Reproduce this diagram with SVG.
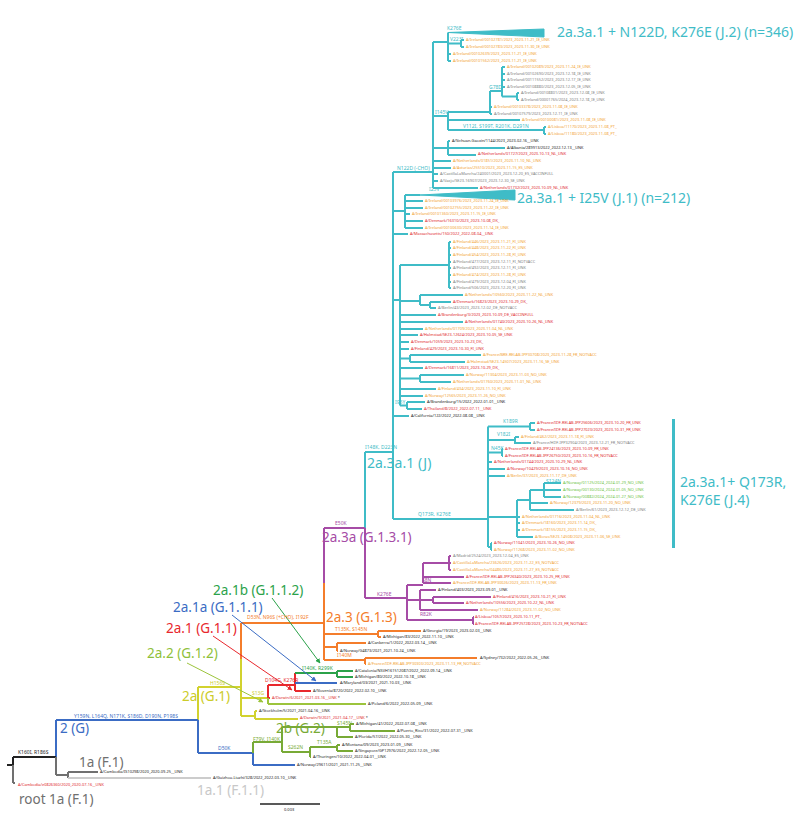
<svg xmlns="http://www.w3.org/2000/svg" width="800" height="827" viewBox="0 0 800 827">
<defs>
<style>
.e{fill:none;stroke-width:2}
.cy{stroke:#3fbcc7}.pu{stroke:#a64ca6}.or{stroke:#f47d2b}.ye{stroke:#d2d22e}.rd{stroke:#e8282d}.yg{stroke:#9cc43c}.gr{stroke:#2ba24a}.bl{stroke:#3b6cc4}.g2{stroke:#78aa36}.bk{stroke:#222}.gy{stroke:#707070}.lg{stroke:#cccccc}
text{font-family:"Noto Sans","DejaVu Sans",sans-serif}
.l{font-size:3.9px}.m{font-size:5px}.c{font-size:13.5px}.j{font-size:14px}
.K{fill:#222}.G{fill:#808080}.R{fill:#e0282e}.O{fill:#f2a233}.N{fill:#6cbf3f}
.tcy{fill:#3fbcc7}.tpu{fill:#a64ca6}.tor{fill:#f47d2b}.tye{fill:#cccc2a}.trd{fill:#e8282d}.tyg{fill:#8fbf3a}.tgr{fill:#2ba24a}.tbl{fill:#3b6cc4}.tg2{fill:#78aa36}.tgy{fill:#707070}.tlg{fill:#c8c8c8}
</style>
<marker id="agr" viewBox="0 0 10 10" refX="9" refY="5" markerWidth="5" markerHeight="5" orient="auto"><path d="M0,0L10,5L0,10z" fill="#2ba24a"/></marker>
<marker id="abl" viewBox="0 0 10 10" refX="9" refY="5" markerWidth="5" markerHeight="5" orient="auto"><path d="M0,0L10,5L0,10z" fill="#3b6cc4"/></marker>
<marker id="ard" viewBox="0 0 10 10" refX="9" refY="5" markerWidth="5" markerHeight="5" orient="auto"><path d="M0,0L10,5L0,10z" fill="#e8282d"/></marker>
<marker id="ayg" viewBox="0 0 10 10" refX="9" refY="5" markerWidth="5" markerHeight="5" orient="auto"><path d="M0,0L10,5L0,10z" fill="#9cc43c"/></marker>
</defs>
<rect width="800" height="827" fill="#fff"/>
<g id="connectors">
<path class="e cy" d="M365,452V528M365,452H393M393,172V519M393,172H433M433,42V188M433,42H448M448,32.5V61M448,43.5H461M461,40V47M461,40H464M461,47H464M448,54H451M448,61H451M433,116H448M448,112V130M448,112H490M490,91V114M490,107H492M490,114H492M490,91H502M502,67V96.5M502,67H505M502,74H505M502,80H505M502,87H505M502,96.5H517M517,93V100M517,93H519M517,100H519M448,120H520M448,130H544M544,127V134M544,127H546M544,134H546M433,148H448M448,141V155M448,141H450M448,148H505M448,155H476M433,161H451M433,168H451M433,174H438M433,181H438M433,188H478M393,211H405M405,195V228M405,195H420M405,201H423M405,208H423M405,214H410M405,221H423M405,228H423M393,234H408M393,300H400M400,265V405.5M400,265H449M449,242V288M449,242H451M449,248H451M449,255H451M449,262H451M449,268H451M449,275H451M449,282H451M449,288H451M400,301H420M420,295V305M420,295H463M420,305H430M430,302V308M430,302H451M430,308H436M400,315H436M400,322H463M400,329H423M400,335H418M400,342H409M400,349H409M400,358.5H410M410,355V362M410,355H481M410,362H465M400,368H423M400,378.5H420M420,375V382M420,375H464M420,382H451M400,389H436M400,396H423M400,405.5H407M407,402V409M407,402H425M407,409H422M393,416H409M393,519H488M488,426.5V547M488,426.5H530M530,423V430M530,423H535M530,430H535M488,440H515M515,437V444M515,437H519M515,443H531M488,452.5H502M502,449V456M502,449H503M502,456H503M488,462H492M488,469H505M488,476H505M488,517H517M517,500V537M517,500H530M530,490V510M530,490H544M544,483V497M544,483H561M544,490H561M544,497H561M530,503H548M530,510H574M517,517H520M517,523H520M517,530H520M517,537H533M488,547H491M491,543V550M491,543H492M491,550H492"/>
<polygon points="448,32.5 544,29 544,37" fill="#3fbcc7" stroke="#3fbcc7" stroke-width="1"/>
<polygon points="420,195 515,190 515,200" fill="#3fbcc7" stroke="#3fbcc7" stroke-width="1"/>
<rect x="672" y="419" width="3" height="129" fill="#3fbcc7"/>
<path class="e pu" d="M324,528H365M324,528V583M365,528V598M365,598H407M407,585V620M407,585H423M423,563V583M423,563H449M449,556V570M449,556H451M449,563H451M449,570H451M423,577H464M423,583H451M407,600H420M420,590V610M420,590H436M420,600H433M433,597V603M433,597H491M433,603H464M420,610H478M407,620H473M473,617V624M473,617H474M473,624H474"/>
<path class="e or" d="M241,623H324M241,623V659M324,583V660M324,634H378M378,631V637M378,631H421M378,637H381M324,647H337M337,643V651M337,643H366M337,651H338M324,660H365M365,658V664M365,658H477M365,664H366"/>
<path class="e ye" d="M198,687H241M198,687V720M241,659V716M241,698H268M241,716H255M255,711V719M255,711H257M255,719H298"/>
<path class="e rd" d="M268,685V698M268,685H295M295,673V691M295,691H311M268,698H270"/>
<path class="e yg" d="M268,698V704M268,704H366"/>
<path class="e gr" d="M295,673H337M337,671V677M337,671H353M337,677H353"/>
<path class="e bl" d="M295,683H337M56,720H198M56,720V757M198,720V753M198,753H253M253,753V765M253,765H295"/>
<path class="e g2" d="M253,742V753M253,742H282M282,727V752M282,727H350M337,727V737M337,737H353M350,724V731M350,724H354M350,731H395M282,752H310M310,747V757M310,747H337M337,745V751M337,745H340M337,751H353M310,757H311"/>
<path class="e bk" d="M7,765H13M13,757V765M13,757H56"/>
<path class="e gy" d="M13,765V783M13,783H15M56,757V775M56,775H68M68,772V778M68,772H98"/>
<path class="e lg" d="M68,778H211"/>
<path d="M260,804H320" stroke="#222" stroke-width="1.5" fill="none"/>
<path d="M272,598L320,663" stroke="#2ba24a" stroke-width="1" fill="none" marker-end="url(#agr)"/>
<path d="M232,615L316,681" stroke="#3b6cc4" stroke-width="1" fill="none" marker-end="url(#abl)"/>
<path d="M213,636L292,690" stroke="#e8282d" stroke-width="1" fill="none" marker-end="url(#ard)"/>
<path d="M187,663L263,702" stroke="#9cc43c" stroke-width="1" fill="none" marker-end="url(#ayg)"/>
</g>
<g id="mutations">
<text class="m K" x="18" y="754">K160I, R186S</text>
<text class="m tbl" x="74" y="718">Y159N, L164Q, N171K, S186D, D190N, P198S</text>
<text class="m tye" x="210" y="685">H156S</text>
<text class="m tbl" x="218" y="750">D50K</text>
<text class="m tor" x="247" y="619">D53N, N96S (+CHO), I192F</text>
<text class="m tye" x="252" y="695">S13G</text>
<text class="m trd" x="265" y="682">D104G, K276R</text>
<text class="m tgr" x="302" y="670">I140K, R299K</text>
<text class="m tg2" x="253" y="740.5">F79V, I140K</text>
<text class="m tg2" x="337" y="725">S145N</text>
<text class="m tg2" x="288" y="749">S262N</text>
<text class="m tg2" x="317" y="744">T135A</text>
<text class="m tor" x="335" y="631">T135K, S145N</text>
<text class="m tor" x="337" y="657">I140M</text>
<text class="m tpu" x="335" y="525">E50K</text>
<text class="m tpu" x="377" y="596">K276E</text>
<text class="m tpu" x="422" y="582">S8N</text>
<text class="m tpu" x="420" y="616">R82K</text>
<text class="m tcy" x="365" y="449">I148K, D223N</text>
<text class="m tcy" x="418" y="516">Q173R, K276E</text>
<text class="m tcy" x="503" y="423">K189R</text>
<text class="m tcy" x="497" y="436">V182I</text>
<text class="m tcy" x="491" y="450">N45K</text>
<text class="m tcy" x="546" y="483">S124N</text>
<text class="m tcy" x="395" y="404">I95Y</text>
<text class="m tcy" x="429" y="191">I25V</text>
<text class="m tcy" x="397" y="170">N122D (-CHO)</text>
<text class="m tcy" x="447" y="30">K276E</text>
<text class="m tcy" x="450" y="41">V223I</text>
<text class="m tcy" x="489" y="89">G78D</text>
<text class="m tcy" x="435" y="114">I145V</text>
<text class="m tcy" x="463" y="128">V112I, S199T, R201K, D291N</text>
<text x="284" y="811" style="font-size:4px" class="K">0.003</text>
</g>
<g id="clade-labels">
<text class="j tcy" x="557" y="37">2a.3a.1 + N122D, K276E (J.2) (n=346)</text>
<text class="j tcy" x="517" y="202.5">2a.3a.1 + I25V (J.1) (n=212)</text>
<text class="j tcy" x="367" y="468">2a.3a.1 (J)</text>
<text class="j tcy" x="680" y="487">2a.3a.1+ Q173R,</text>
<text class="j tcy" x="680" y="505">K276E (J.4)</text>
<text class="c tpu" x="322" y="542">2a.3a (G.1.3.1)</text>
<text class="c tor" x="326" y="622">2a.3 (G.1.3)</text>
<text class="c tgr" x="213" y="595">2a.1b (G.1.1.2)</text>
<text class="c tbl" x="173" y="612">2a.1a (G.1.1.1)</text>
<text class="c trd" x="166" y="633">2a.1 (G.1.1)</text>
<text class="c tyg" x="147" y="658">2a.2 (G.1.2)</text>
<text class="c tye" x="182" y="701">2a (G.1)</text>
<text class="c tbl" x="60" y="733">2 (G)</text>
<text class="c tg2" x="276" y="732.5">2b (G.2)</text>
<text class="c tgy" x="79" y="767">1a (F.1)</text>
<text class="c tgy" x="19" y="804">root 1a (F.1)</text>
<text class="c tlg" x="197" y="795">1a.1 (F.1.1)</text>
</g>
<g id="leaves-J">
<text class="l O" x="466" y="41.4">A/Ireland/00102781/2023_2023-11-21_IE_UNK</text>
<text class="l O" x="466" y="48.4">A/Ireland/00102783/2023_2023-11-30_IE_UNK</text>
<text class="l O" x="453" y="55.4">A/Ireland/00102639/2023_2023-11-21_IE_UNK</text>
<text class="l O" x="453" y="62.4">A/Ireland/00101562/2023_2023-11-21_IE_UNK</text>
<text class="l O" x="507" y="68.4">A/Ireland/00102089/2023_2023-11-24_IE_UNK</text>
<text class="l G" x="507" y="75.4">A/Ireland/00102690/2023_2023-12-18_IE_UNK</text>
<text class="l G" x="507" y="81.4">A/Ireland/00111552/2023_2023-12-17_IE_UNK</text>
<text class="l G" x="507" y="88.4">A/Ireland/00108880/2023_2023-12-05_IE_UNK</text>
<text class="l G" x="521" y="94.4">A/Ireland/00108801/2023_2023-12-08_IE_UNK</text>
<text class="l G" x="521" y="101.4">A/Ireland/00001765/2024_2023-12-18_IE_UNK</text>
<text class="l O" x="494" y="108.4">A/Ireland/00103378/2023_2023-11-08_IE_UNK</text>
<text class="l G" x="494" y="115.4">A/Ireland/00107579/2023_2023-12-11_IE_UNK</text>
<text class="l O" x="522" y="121.4">A/Ireland/00100081/2023_2023-11-08_IE_UNK</text>
<text class="l O" x="548" y="128.4">A/Lisboa/11170/2023_2023-11-08_PT_</text>
<text class="l O" x="548" y="135.4">A/Lisboa/11180/2023_2023-11-08_PT_</text>
<text class="l K" x="452" y="142.4">A/Sichuan-Gaoxin/1144/2023_2023-02-16__UNK</text>
<text class="l K" x="507" y="149.4">A/Albania/289913/2022_2022-12-13__UNK</text>
<text class="l R" x="478" y="155.4">A/Netherlands/01727/2023_2023-10-13_NL_UNK</text>
<text class="l O" x="453" y="162.4">A/Netherlands/01851/2023_2023-11-10_NL_UNK</text>
<text class="l O" x="453" y="169.4">A/Asturias/25510/2023_2023-11-15_ES_UNK</text>
<text class="l G" x="440" y="175.4">A/CastillaLaMancha/240001/2023_2023-12-20_ES_VACCINFULL</text>
<text class="l G" x="440" y="182.4">A/Vaxjo/SE23-16907/2023_2023-12-30_SE_UNK</text>
<text class="l R" x="480" y="188.8">A/Netherlands/01732/2023_2023-10-09_NL_UNK</text>
<text class="l O" x="425" y="202.4">A/Ireland/00103976/2023_2023-11-24_IE_UNK</text>
<text class="l O" x="425" y="209.4">A/Ireland/00102755/2023_2023-11-22_IE_UNK</text>
<text class="l O" x="412" y="215.4">A/Ireland/00101360/2023_2023-11-15_IE_UNK</text>
<text class="l R" x="425" y="222.4">A/Denmark/16310/2023_2023-10-08_DK_</text>
<text class="l O" x="425" y="229.4">A/Ireland/00100630/2023_2023-11-14_IE_UNK</text>
<text class="l R" x="410" y="235.4">A/Massachusetts/150/2022_2022-08-04__UNK</text>
<text class="l O" x="453" y="243.4">A/Finland/446/2023_2023-11-21_FI_UNK</text>
<text class="l O" x="453" y="249.4">A/Finland/448/2023_2023-11-22_FI_UNK</text>
<text class="l O" x="453" y="256.4">A/Finland/454/2023_2023-11-28_FI_UNK</text>
<text class="l G" x="453" y="263.4">A/Finland/477/2023_2023-12-11_FI_NOTVACC</text>
<text class="l G" x="453" y="269.4">A/Finland/492/2023_2023-12-11_FI_UNK</text>
<text class="l O" x="453" y="276.4">A/Finland/474/2023_2023-11-28_FI_UNK</text>
<text class="l G" x="453" y="283.4">A/Finland/479/2023_2023-12-04_FI_UNK</text>
<text class="l G" x="453" y="289.4">A/Finland/506/2023_2023-12-20_FI_UNK</text>
<text class="l O" x="465" y="296.4">A/Netherlands/10560/2023_2023-11-22_NL_UNK</text>
<text class="l R" x="453" y="303.4">A/Denmark/16823/2023_2023-10-29_DK_</text>
<text class="l G" x="438" y="309.4">A/Berlin/43/2023_2023-12-02_DE_NOTVACC</text>
<text class="l R" x="438" y="316.4">A/Brandenburg/3/2023_2023-10-09_DE_VACCINFULL</text>
<text class="l R" x="465" y="323.4">A/Netherlands/01740/2023_2023-10-26_NL_UNK</text>
<text class="l O" x="425" y="330.4">A/Netherlands/01709/2023_2023-11-04_NL_UNK</text>
<text class="l R" x="420" y="336.4">A/Halmstad/SE23-12624/2023_2023-10-05_SE_UNK</text>
<text class="l R" x="411" y="343.4">A/Denmark/1059/2023_2023-10-23_DK_</text>
<text class="l R" x="411" y="350.4">A/Finland/429/2023_2023-10-30_FI_UNK</text>
<text class="l O" x="483" y="356.4">A/France/BRE-RELAB-IPP30708/2023_2023-11-28_FR_NOTVACC</text>
<text class="l O" x="467" y="363.4">A/Halmstad/SE23-14507/2023_2023-11-16_SE_UNK</text>
<text class="l R" x="425" y="369.4">A/Denmark/16811/2023_2023-10-29_DK_</text>
<text class="l O" x="466" y="376.4">A/Norway/11304/2023_2023-11-03_NO_UNK</text>
<text class="l O" x="453" y="383.4">A/Netherlands/01760/2023_2023-11-01_NL_UNK</text>
<text class="l O" x="438" y="390.4">A/Finland/434/2023_2023-11-10_FI_UNK</text>
<text class="l O" x="425" y="397.4">A/Norway/12565/2023_2023-11-26_NO_UNK</text>
<text class="l K" x="427" y="403.4">A/Brandenburg/15/2022_2022-01-01__UNK</text>
<text class="l R" x="424" y="410.4">A/Thailand/8/2022_2022-07-11__UNK</text>
<text class="l K" x="411" y="417.4">A/California/122/2022_2022-08-08__UNK</text>
</g>
<g id="leaves-J4">
<text class="l R" x="537" y="424.4">A/France/IDF-RELAB-IPP25606/2023_2023-10-20_FR_UNK</text>
<text class="l R" x="537" y="431.4">A/France/IDF-RELAB-IPP27023/2023_2023-10-31_FR_UNK</text>
<text class="l O" x="521" y="438.4">A/Finland/462/2023_2023-11-18_FI_UNK</text>
<text class="l G" x="533" y="444.4">A/France/HDF-IPP32904/2023_2023-12-21_FR_NOTVACC</text>
<text class="l R" x="505" y="450.4">A/France/IDF-RELAB-IPP24136/2023_2023-10-09_FR_UNK</text>
<text class="l R" x="505" y="457.4">A/France/IDF-RELAB-IPP26750/2023_2023-10-16_FR_NOTVACC</text>
<text class="l R" x="494" y="463.4">A/Netherlands/01744/2023_2023-10-29_NL_UNK</text>
<text class="l R" x="507" y="470.4">A/Norway/10429/2023_2023-10-16_NO_UNK</text>
<text class="l O" x="507" y="477.2">A/Berlin/37/2023_2023-11-17_DE_UNK</text>
<text class="l N" x="563" y="484.4">A/Norway/01125/2024_2024-01-29_NO_UNK</text>
<text class="l N" x="563" y="491.4">A/Norway/00130/2024_2024-01-05_NO_UNK</text>
<text class="l N" x="563" y="498.4">A/Norway/00882/2024_2024-01-27_NO_UNK</text>
<text class="l O" x="550" y="504.4">A/Norway/12379/2023_2023-11-20_NO_UNK</text>
<text class="l G" x="576" y="511.4">A/Berlin/61/2023_2023-12-12_DE_UNK</text>
<text class="l O" x="522" y="518.4">A/Netherlands/01716/2023_2023-11-04_NL_UNK</text>
<text class="l O" x="522" y="524.4">A/Denmark/18160/2023_2023-11-14_DK_</text>
<text class="l O" x="522" y="531.4">A/Denmark/18155/2023_2023-11-15_DK_</text>
<text class="l O" x="535" y="538.4">A/Boras/SE23-14508/2023_2023-11-06_SE_UNK</text>
<text class="l R" x="494" y="544.4">A/Norway/11041/2023_2023-10-26_NO_UNK</text>
<text class="l O" x="494" y="551.4">A/Norway/11268/2023_2023-11-02_NO_UNK</text>
</g>
<g id="leaves-G131">
<text class="l G" x="453" y="557.4">A/Madrid/2524/2023_2023-12-04_ES_UNK</text>
<text class="l O" x="453" y="564.4">A/CastillaLaMancha/23626/2023_2023-11-22_ES_NOTVACC</text>
<text class="l O" x="453" y="571.4">A/CastillaLaMancha/04486/2023_2023-11-27_ES_NOTVACC</text>
<text class="l R" x="466" y="578.4">A/France/IDF-RELAB-IPP26340/2023_2023-10-25_FR_UNK</text>
<text class="l O" x="453" y="584.4">A/France/IDF-RELAB-IPP30026/2023_2023-11-13_FR_UNK</text>
<text class="l K" x="438" y="591.4">A/Finland/403/2023_2023-09-01__UNK</text>
<text class="l R" x="493" y="598.4">A/Finland/416/2023_2023-10-21_FI_UNK</text>
<text class="l R" x="466" y="604.4">A/Netherlands/10556/2023_2023-10-22_NL_UNK</text>
<text class="l O" x="480" y="611.4">A/Norway/11284/2023_2023-11-02_NO_UNK</text>
<text class="l R" x="475" y="618.4">A/Lisboa/1057/2023_2023-10-11_PT_</text>
<text class="l R" x="475" y="625.4">A/France/IDF-RELAB-IPP25728/2023_2023-10-23_FR_NOTVACC</text>
</g>
<g id="leaves-G13">
<text class="l K" x="423" y="632.4">A/Georgia/19/2023_2023-02-03__UNK</text>
<text class="l K" x="383" y="638.4">A/Michigan/83/2022_2022-11-10__UNK</text>
<text class="l K" x="368" y="644.4">A/Canberra/1/2022_2022-03-14__UNK</text>
<text class="l K" x="340" y="652.4">A/Norway/G4873/2021_2021-10-24__UNK</text>
<text class="l K" x="480" y="659.4">A/Sydney/732/2022_2022-05-26__UNK</text>
<text class="l O" x="368" y="665.4">A/France/IDF-RELAB-IPP30303/2023_2023-11-13_FR_NOTVACC</text>
</g>
<g id="leaves-lower">
<text class="l K" x="355" y="672.4">A/Catalonia/NSVH161512087/2022_2022-09-14__UNK</text>
<text class="l K" x="355" y="678.4">A/Michigan/80/2022_2022-10-18__UNK</text>
<text class="l K" x="340" y="684.4">A/Maryland/03/2021_2021-10-03__UNK</text>
<text class="l K" x="313" y="692.4">A/Slovenia/8720/2022_2022-02-10__UNK</text>
<text class="l R" x="272" y="699.4">A/Darwin/6/2021_2021-03-16__UNK <tspan class="K">*</tspan></text>
<text class="l K" x="368" y="705.4">A/Poland/6/2022_2022-05-09__UNK</text>
<text class="l K" x="259" y="712.4">A/Stockholm/5/2021_2021-04-16__UNK</text>
<text class="l R" x="300" y="719.4">A/Darwin/9/2021_2021-04-17__UNK <tspan class="K">*</tspan></text>
<text class="l K" x="356" y="725.4">A/Michigan/41/2022_2022-07-08__UNK</text>
<text class="l K" x="397" y="732.4">A/Puerto_Rico/31/2022_2022-07-31__UNK</text>
<text class="l K" x="355" y="738.4">A/Florida/57/2022_2022-05-30__UNK</text>
<text class="l K" x="342" y="746.4">A/Montana/09/2023_2023-01-09__UNK</text>
<text class="l K" x="355" y="752.4">A/Singapore/GP12976/2022_2022-12-05__UNK</text>
<text class="l K" x="313" y="758.4">A/Thuringen/10/2022_2022-04-01__UNK</text>
<text class="l K" x="297" y="766.4">A/Norway/29611/2021_2021-11-25__UNK</text>
<text class="l K" x="100" y="773.4">A/Cambodia/IS10298/2020_2020-09-25__UNK</text>
<text class="l K" x="213" y="779.4">A/Guizhou-Liuzhi/328/2022_2022-03-10__UNK</text>
<text class="l R" x="18" y="786.4">A/Cambodia/e0826360/2020_2020-07-16__UNK</text>
</g>
</svg>
